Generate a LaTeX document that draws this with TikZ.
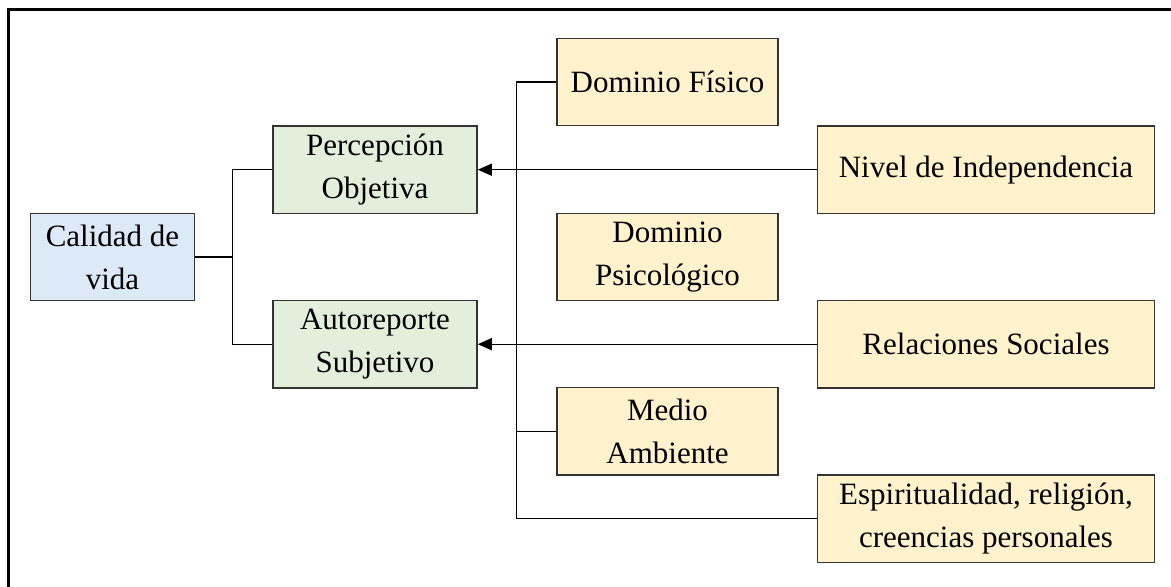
\documentclass[tikz,border=0pt]{standalone}
\usepackage{fontspec}
\setmainfont{Liberation Serif}
\usetikzlibrary{arrows.meta}

\definecolor{cajaazul}{HTML}{DCE9F6}
\definecolor{cajaverde}{HTML}{E3EFDB}
\definecolor{cajaamarilla}{HTML}{FFF2CD}

\tikzset{
  caja/.style={draw=black!80, line width=0.75pt, align=center,
    inner sep=0pt, minimum height=43.7pt,
    font=\fontsize{15.5}{21.5}\selectfont},
  flecha/.style={-{Triangle[length=7pt,width=6pt]}},
}

\begin{document}
\begin{tikzpicture}[x=0.5pt, y=-0.5pt, line width=0.65pt] % 按像素坐标, y 轴向下
  \useasboundingbox (0,0) rectangle (1171,587);
  % 外框 (只有上边和左边)
  \draw[line width=1.5pt] (1171,10) -- (8,10) -- (8,587);
  % 左边三个框
  \node[caja, fill=cajaazul, minimum width=82pt] (calidad) at (112.5,257) {Calidad de\\vida};
  \node[caja, fill=cajaverde, minimum width=102pt] (percepcion) at (375,169.7) {Percepción\\Objetiva};
  \node[caja, fill=cajaverde, minimum width=102pt] (autoreporte) at (375,344.2) {Autoreporte\\Subjetivo};
  % 中间一列
  \node[caja, fill=cajaamarilla, minimum width=110.5pt] (fisico) at (667.5,82) {Dominio Físico};
  \node[caja, fill=cajaamarilla, minimum width=110.5pt] (psico) at (667.5,257) {Dominio\\Psicológico};
  \node[caja, fill=cajaamarilla, minimum width=110.5pt] (medio) at (667.5,431.3) {Medio\\Ambiente};
  % 右边一列
  \node[caja, fill=cajaamarilla, minimum width=168.6pt] (nivel) at (986,169.7) {Nivel de Independencia};
  \node[caja, fill=cajaamarilla, minimum width=168.6pt] (relaciones) at (986,344.2) {Relaciones Sociales};
  \node[caja, fill=cajaamarilla, minimum width=168.6pt] (espiritual) at (986,518.8) {Espiritualidad, religión,\\creencias personales};
  % 竖线的位置
  \coordinate (ja) at (232.7,0);
  \coordinate (jb) at (516.6,0);
  % 连线
  \draw (calidad.east) -- (calidad.east -| ja);
  \draw (percepcion.west) -| (ja |- autoreporte.west) -- (autoreporte.west);
  \draw (fisico.west) -| (jb |- espiritual.west) -- (espiritual.west);
  \draw (medio.west) -- (medio.west -| jb);
  \draw[flecha] (nivel.west) -- (percepcion.east);
  \draw[flecha] (relaciones.west) -- (autoreporte.east);
\end{tikzpicture}
\end{document}
